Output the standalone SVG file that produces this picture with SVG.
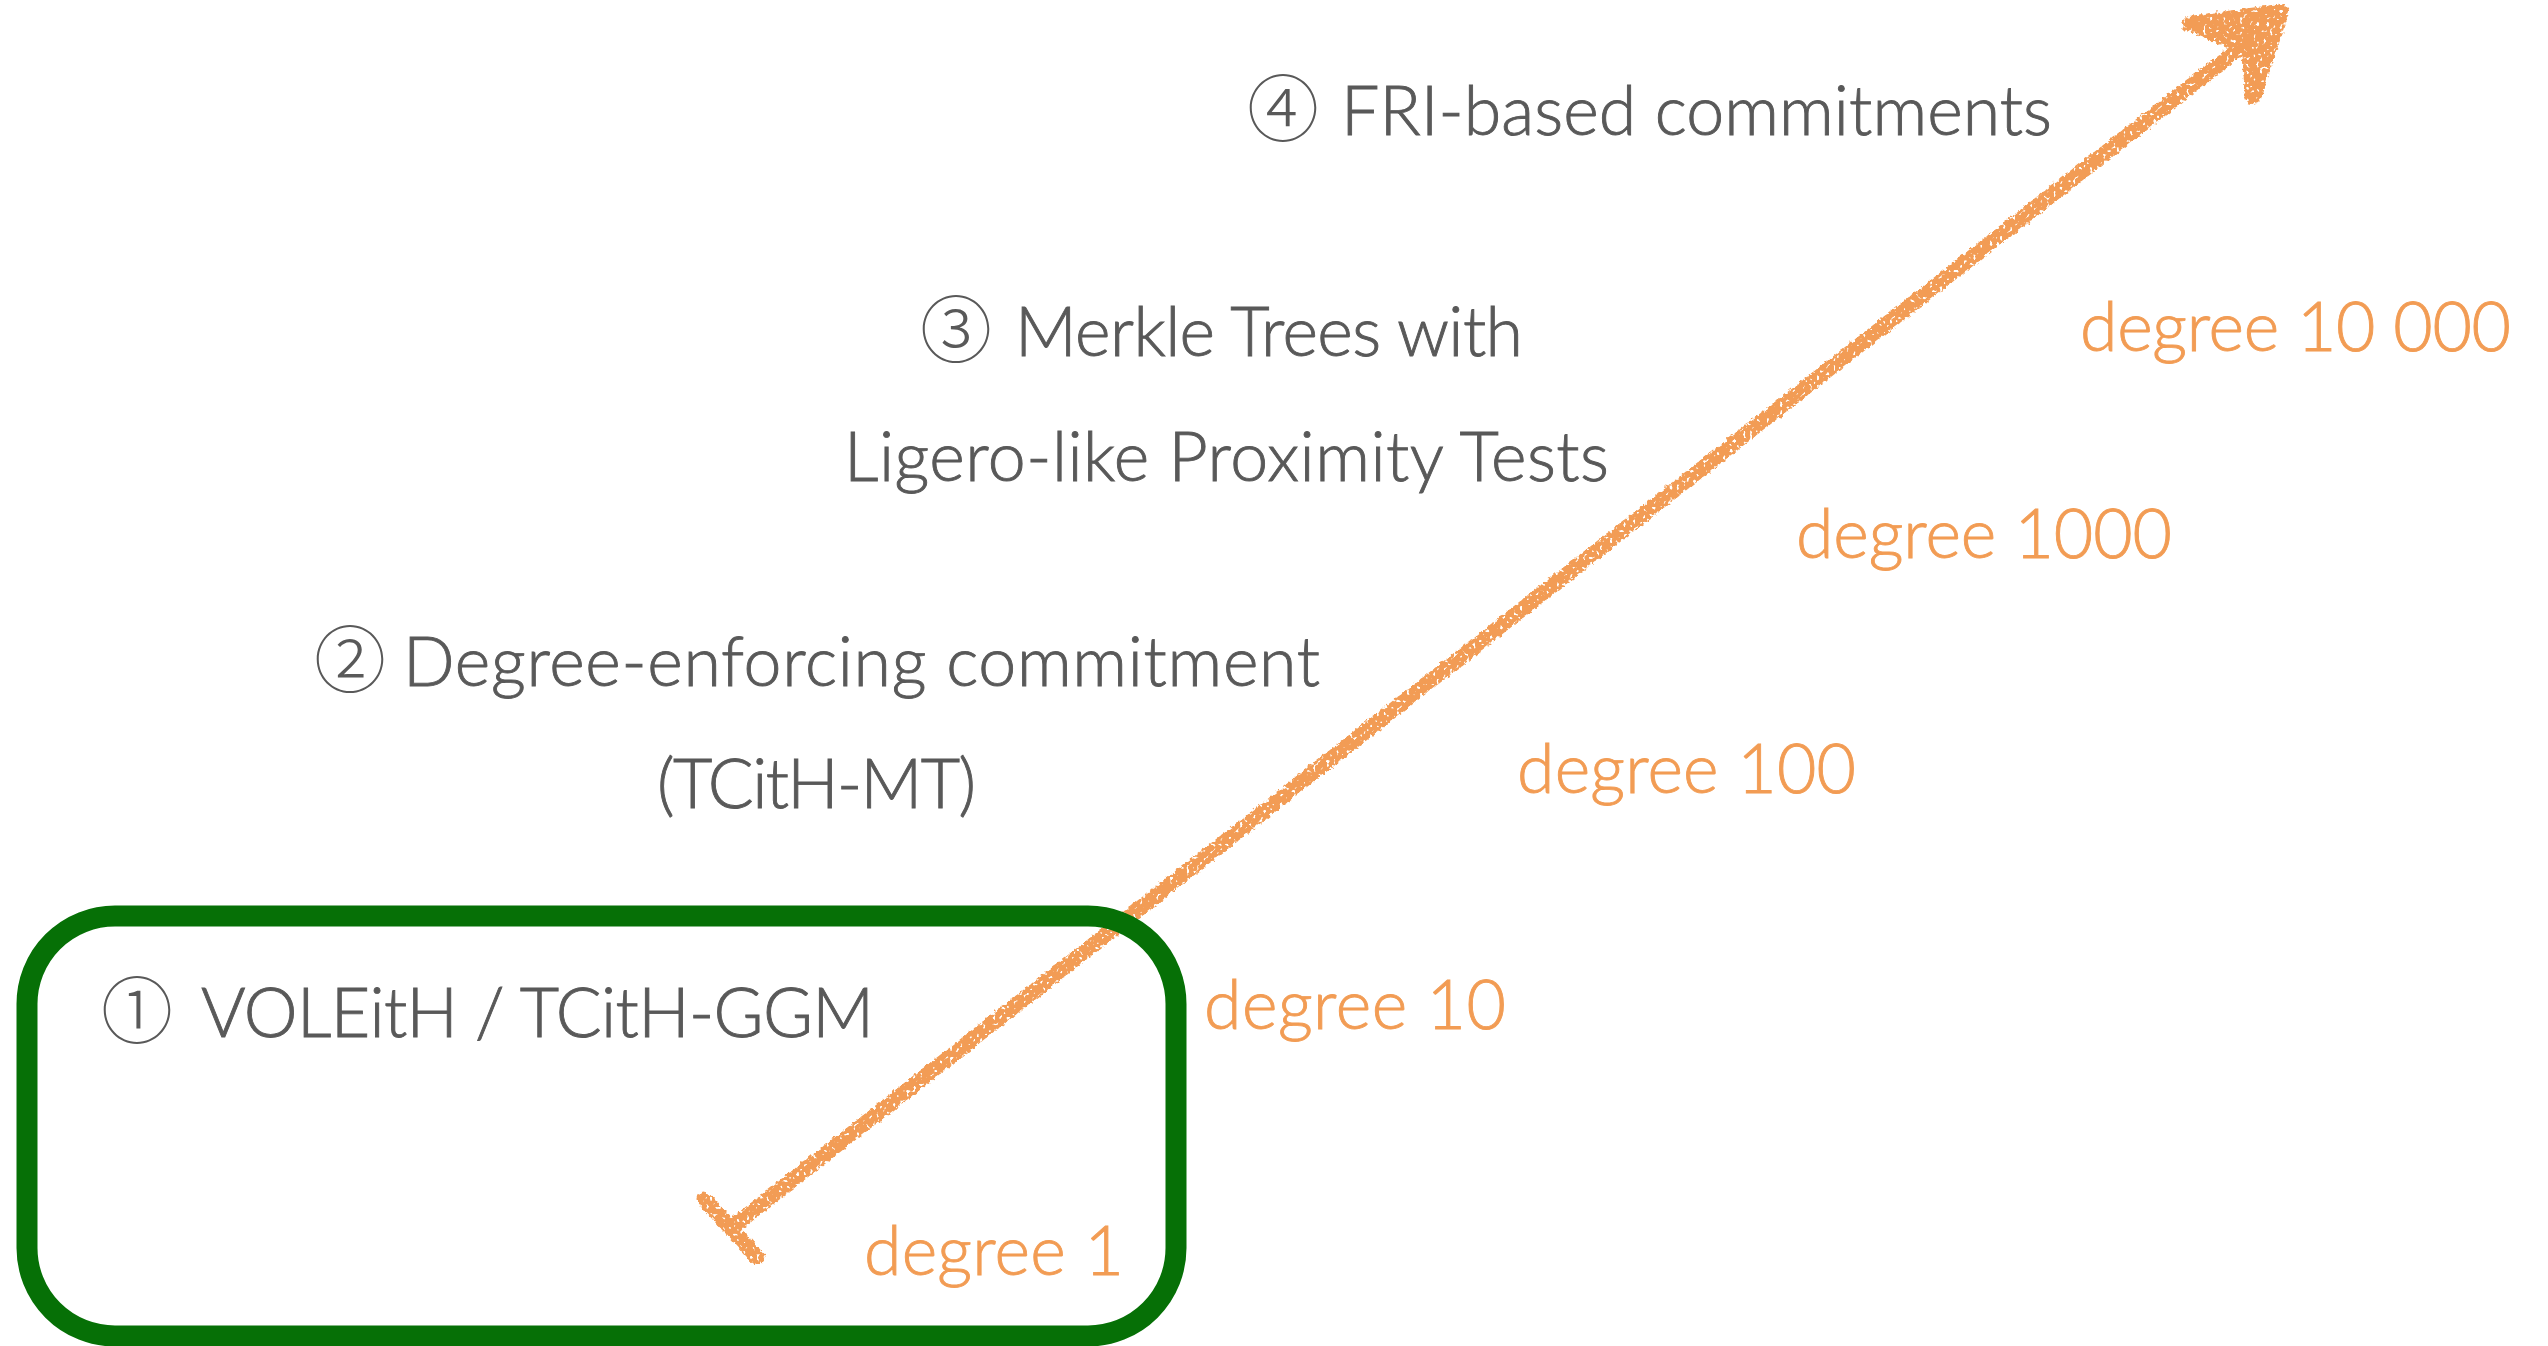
<svg xmlns="http://www.w3.org/2000/svg" width="2548" height="1346" viewBox="0 0 2548 1346">
  <style>
    .lbl { font-family: Lato, "Open Sans", "Noto Sans", sans-serif; font-weight: 300; font-size: 68px; fill: #595959; stroke: #595959; stroke-width: 0.9px; }
    .deg { font-family: Lato, "Open Sans", "Noto Sans", sans-serif; font-weight: 300; font-size: 68px; fill: #f29c54; stroke: #f29c54; stroke-width: 0.9px; }
    .num { font-family: "Noto Sans CJK JP", "DejaVu Sans", sans-serif; font-weight: 300; font-size: 72px; fill: #595959; text-anchor: middle; }
    .box { fill: none; stroke: #067006; stroke-width: 21; }
    .chalk { stroke: #f29c54; fill: none; stroke-linecap: round; stroke-linejoin: round; }
  </style>
  <defs>
    <!-- rough, grainy chalk edge for the hand-drawn arrow -->
    <filter id="rough" x="-5%" y="-5%" width="110%" height="110%">
      <feTurbulence type="fractalNoise" baseFrequency="0.25" numOctaves="2" seed="4" result="n1"/>
      <feDisplacementMap in="SourceGraphic" in2="n1" scale="6" xChannelSelector="R" yChannelSelector="G" result="disp"/>
      <feTurbulence type="fractalNoise" baseFrequency="0.3" numOctaves="1" seed="9" result="n2"/>
      <feColorMatrix in="n2" type="matrix" values="0 0 0 0 0  0 0 0 0 0  0 0 0 0 0  -12 0 0 0 8.4" result="holes"/>
      <feComposite in="disp" in2="holes" operator="in"/>
    </filter>
  </defs>

  <rect width="2548" height="1346" fill="#ffffff"/>

  <g id="connectors">
    <g id="degree-arrow" filter="url(#rough)">
      <!-- tail bar -->
      <line class="chalk" x1="704" y1="1199" x2="757" y2="1257" stroke-width="15"/>
      <!-- shaft -->
      <line class="chalk" x1="731" y1="1228" x2="2242" y2="46" stroke-width="15"/>
      <!-- head -->
      <polygon points="2186,17 2286,7 2262,98 2246,101 2241,52 2198,36" fill="#f29c54"/>
      <polyline class="chalk" points="2190,24 2281,12 2252,96" stroke-width="16"/>
    </g>
  </g>

  <g id="node-1">
    <rect class="box" x="27" y="916" width="1149" height="420" rx="88" ry="88"/>
    <text class="num" x="137" y="1037">①</text>
    <text class="lbl" x="201" y="1037" textLength="673">VOLEitH / TCitH-GGM</text>
  </g>

  <g id="node-2">
    <text class="num" x="350" y="686">②</text>
    <text class="lbl" x="403" y="686" textLength="917">Degree-enforcing commitment</text>
    <text class="lbl" x="657" y="808" textLength="319">(TCitH-MT)</text>
  </g>

  <g id="node-3">
    <text class="num" x="956" y="356">③</text>
    <text class="lbl" x="1015" y="356" textLength="508">Merkle Trees with</text>
    <text class="lbl" x="844" y="481" textLength="765">Ligero-like Proximity Tests</text>
  </g>

  <g id="node-4">
    <text class="num" x="1283" y="135">④</text>
    <text class="lbl" x="1341" y="135" textLength="711">FRI-based commitments</text>
  </g>

  <g id="degree-labels">
    <text id="deg-1" class="deg" x="864" y="1275" textLength="260">degree 1</text>
    <text id="deg-10" class="deg" x="1204" y="1029" textLength="302">degree 10</text>
    <text id="deg-100" class="deg" x="1517" y="793" textLength="339">degree 100</text>
    <text id="deg-1000" class="deg" x="1796" y="558" textLength="376">degree 1000</text>
    <text id="deg-10000" class="deg" x="2080" y="351" textLength="431">degree 10 000</text>
  </g>
</svg>
